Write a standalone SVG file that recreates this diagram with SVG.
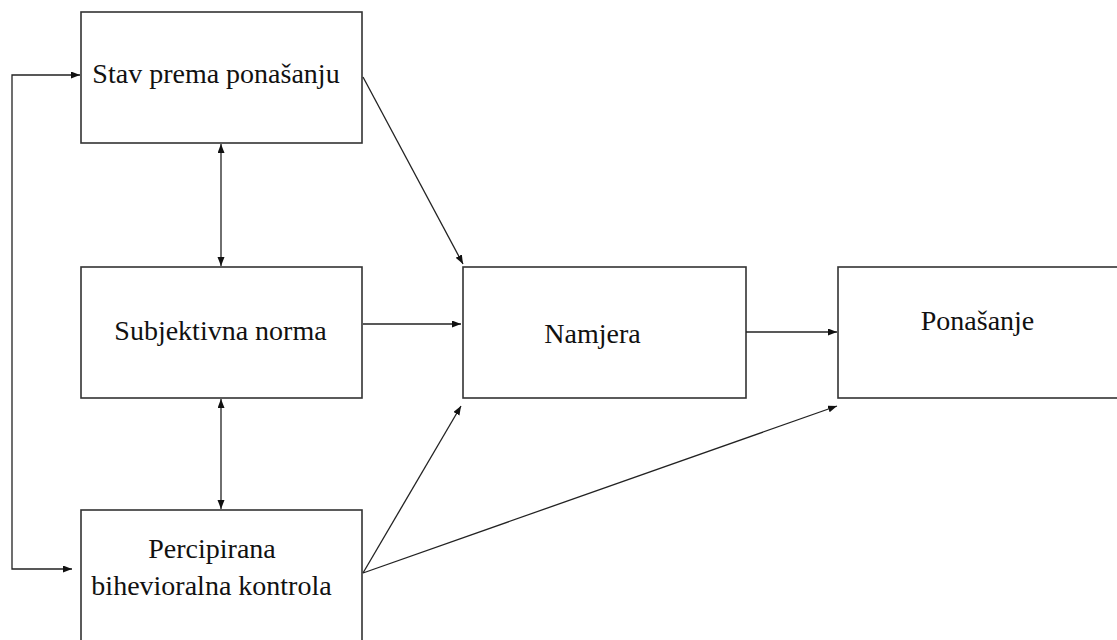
<svg xmlns="http://www.w3.org/2000/svg" width="1117" height="640" viewBox="0 0 1117 640">
<defs>
<marker id="ah" markerUnits="userSpaceOnUse" markerWidth="10" markerHeight="8" refX="9" refY="3.5" orient="auto-start-reverse">
<path d="M0,0 L9,3.5 L0,7 z" fill="#111"/>
</marker>
<style>
.box{fill:#fff;stroke:#333;stroke-width:1.6}
.lbl{font-family:"Liberation Serif","Times New Roman",serif;font-size:28px;fill:#111;text-anchor:middle}
.c{fill:none;stroke:#222;stroke-width:1.3}
</style>
</defs>
<rect width="1117" height="640" fill="#fff"/>
<g id="stav"><rect class="box" x="81" y="12" width="281" height="131"/><text class="lbl" x="216" y="83">Stav prema ponašanju</text></g>
<g id="norma"><rect class="box" x="81" y="267" width="281" height="131"/><text class="lbl" x="220.5" y="340">Subjektivna norma</text></g>
<g id="kontrola"><rect class="box" x="81" y="510" width="281" height="150"/><text class="lbl" x="212" y="558">Percipirana</text><text class="lbl" x="211.5" y="595">bihevioralna kontrola</text></g>
<g id="namjera"><rect class="box" x="463" y="267" width="283" height="131"/><text class="lbl" x="592.5" y="343">Namjera</text></g>
<g id="ponasanje"><rect class="box" x="838" y="267" width="300" height="131"/><text class="lbl" x="977.5" y="330">Ponašanje</text></g>
<g id="connectors">
<polyline class="c" points="72,569 12,569 12,75 80,75" marker-start="url(#ah)" marker-end="url(#ah)"/>
<line class="c" x1="221" y1="144" x2="221" y2="266" marker-start="url(#ah)" marker-end="url(#ah)"/>
<line class="c" x1="221" y1="399" x2="221" y2="509" marker-start="url(#ah)" marker-end="url(#ah)"/>
<line class="c" x1="363" y1="77" x2="463" y2="264" marker-end="url(#ah)"/>
<line class="c" x1="363" y1="324" x2="461" y2="324" marker-end="url(#ah)"/>
<line class="c" x1="363" y1="573" x2="461" y2="406" marker-end="url(#ah)"/>
<line class="c" x1="363" y1="573" x2="837" y2="406" marker-end="url(#ah)"/>
<line class="c" x1="746" y1="332" x2="837" y2="332" marker-end="url(#ah)"/>
</g>
</svg>
